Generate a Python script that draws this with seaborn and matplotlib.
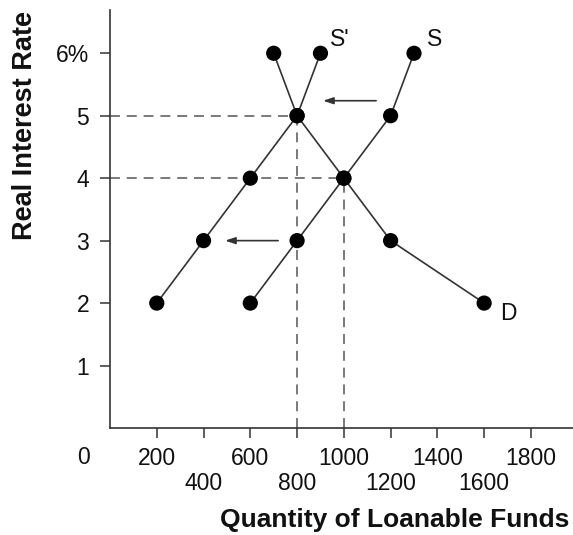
import matplotlib
matplotlib.use("Agg")
import matplotlib.pyplot as plt
import seaborn as sns
import pandas as pd

# supply / demand schedules (quantity, rate)
s_qty = [600, 800, 1000, 1200, 1300]
s_rate = [2, 3, 4, 5, 6]
s2_qty = [200, 400, 600, 800, 900]
s2_rate = [2, 3, 4, 5, 6]
d_qty = [700, 800, 1000, 1200, 1600]
d_rate = [6, 5, 4, 3, 2]

x_ticks = [200, 400, 600, 800, 1000, 1200, 1400, 1600, 1800]
y_ticks = [1, 2, 3, 4, 5, 6]
y_labels = ["1", "2", "3", "4", "5", "6%"]

# equilibria (dashed guides)
eq_qty = [800, 1000]
eq_rate = [5, 4]

sns.set_style("ticks")
plt.rcParams['font.family'] = ['Liberation Sans', 'DejaVu Sans']
plt.rcParams['text.color'] = '#111111'
plt.rcParams['xtick.labelcolor'] = '#111111'
plt.rcParams['ytick.labelcolor'] = '#111111'

fig = plt.figure(figsize=(5.73, 5.35), dpi=100)
ax = fig.add_axes([0.192, 0.2, 0.808, 0.781])

line_col = "#333333"
dash_col = "#555555"

for q, r in zip(eq_qty, eq_rate):
    ax.plot([0, q], [r, r], color=dash_col, lw=1.1, dashes=(6.5, 4.5), zorder=1)
    ax.plot([q, q], [0, r], color=dash_col, lw=1.1, dashes=(6.5, 4.5), zorder=1)

curves = pd.DataFrame({
    'qty': s_qty + s2_qty + d_qty,
    'rate': s_rate + s2_rate + d_rate,
    'curve': ['S'] * 5 + ["S'"] * 5 + ['D'] * 5,
})
for name, grp in curves.groupby('curve'):
    sns.lineplot(data=grp, x='qty', y='rate', sort=False, color=line_col,
                 lw=1.2, ax=ax, zorder=2)
sns.scatterplot(data=curves, x='qty', y='rate', color='black', s=120,
                edgecolor='none', ax=ax, zorder=3)

# curve labels
ax.text(941, 6.22, "S'", fontsize=16.5, va='center', ha='left')
ax.text(1356, 6.22, "S", fontsize=16.5, va='center', ha='left')
ax.text(1668, 1.83, "D", fontsize=16.5, va='center', ha='left')

# shift arrows
arrow = dict(arrowstyle='-|>,head_length=0.6,head_width=0.2', color=line_col,
             lw=1.2, shrinkA=0, shrinkB=0)
ax.annotate('', xy=(911, 5.24), xytext=(1138, 5.24), arrowprops=arrow)
ax.annotate('', xy=(492, 3.0), xytext=(719, 3.0), arrowprops=arrow)

ax.set_xlim(0, 1980)
ax.set_ylim(0, 6.69)
ax.set_xticks(x_ticks)
ax.set_xticklabels([str(v) if i % 2 == 0 else "\n" + str(v)
                    for i, v in enumerate(x_ticks)])
for t in ax.get_xticklabels():
    t.set_linespacing(1.1)
ax.set_yticks(y_ticks)
ax.set_yticklabels(y_labels)
ax.tick_params(axis='both', labelsize=16.5, length=7, width=1.1,
               color=line_col, pad=8)
ax.tick_params(axis='x', pad=7)
ax.set_xlabel('')
ax.set_ylabel('')
for side in ['left', 'bottom']:
    ax.spines[side].set_color(line_col)
    ax.spines[side].set_linewidth(1.2)
sns.despine(ax=ax)

ax.text(-115, -0.47, "0", fontsize=16.5, ha='center', va='center')

fig.text(0.044, 0.7645, "Real Interest Rate", rotation=90, fontsize=19.5,
         fontweight='bold', ha='center', va='center')
fig.text(0.993, 0.028, "Quantity of Loanable Funds", fontsize=19,
         fontweight='bold', ha='right', va='center')

fig.savefig("out.png", dpi=100, facecolor='white')
